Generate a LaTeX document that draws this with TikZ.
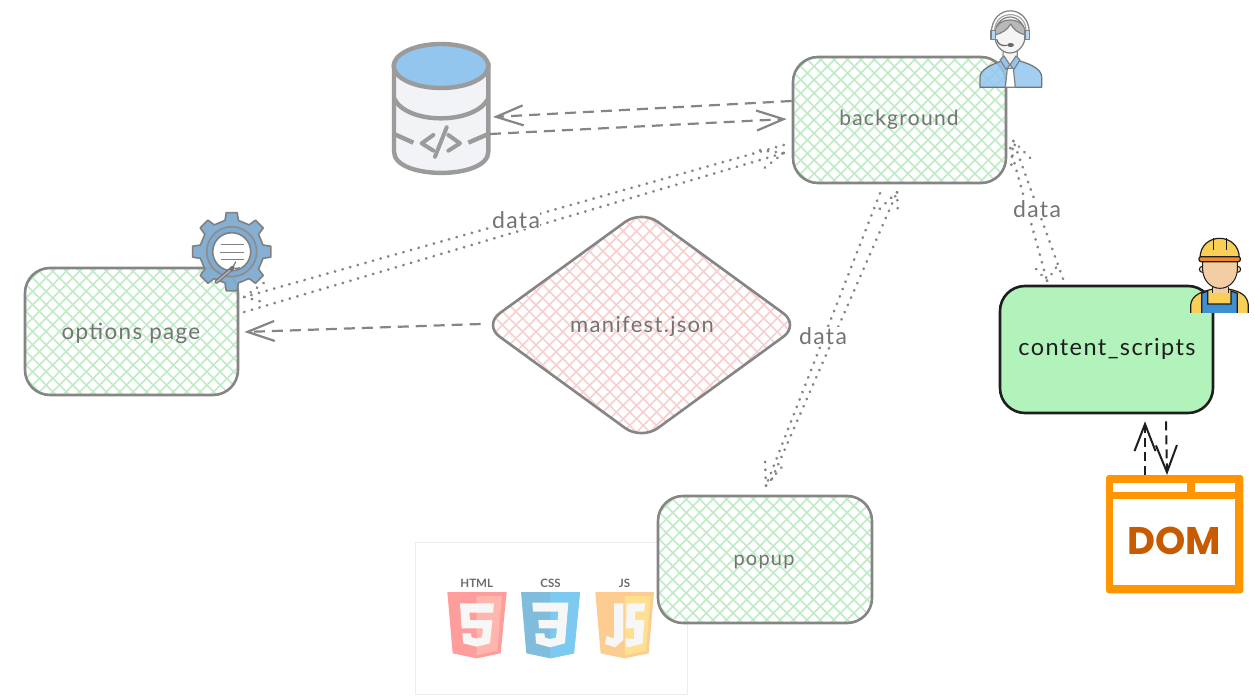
\documentclass[tikz,border=0pt]{standalone}
\usepackage{fontspec}
\usetikzlibrary{arrows.meta,shapes.geometric}
\setmainfont{Lato}
\newfontfamily\hand[LetterSpace=6]{Lato}
\newfontfamily\domfont{Poppins}
\definecolor{edgegray}{HTML}{858585}
\definecolor{textgray}{HTML}{747474}
\definecolor{hatchgreen}{HTML}{BFEBC6}
\definecolor{hatchpink}{HTML}{F8CFCF}
\definecolor{inkdark}{HTML}{1E1E1E}
\definecolor{mint}{HTML}{B2F2BB}
\definecolor{iconblue}{HTML}{92C6EF}
\definecolor{gearblue}{HTML}{7FABD0}
\definecolor{dbgray}{HTML}{9B9B9B}
\definecolor{dbbody}{HTML}{F1F3F6}
\definecolor{domorange}{HTML}{FF9500}
\definecolor{domtext}{HTML}{C75B00}
\definecolor{HTMLcolorA}{HTML}{FF9C9C}
\definecolor{HTMLcolorB}{HTML}{FFB6AC}
\definecolor{CSScolorA}{HTML}{80BCDC}
\definecolor{CSScolorB}{HTML}{7CCAF0}
\definecolor{JScolorA}{HTML}{FCCC90}
\definecolor{JScolorB}{HTML}{FFDF90}
\definecolor{skin}{HTML}{F3CDA4}
\definecolor{hatyellow}{HTML}{F9CF57}
\definecolor{hatorange}{HTML}{EE8A2A}
\definecolor{bibblue}{HTML}{3F8FD2}
\tikzset{
  zoomat/.style 2 args={x=.33333pt,y=-.33333pt,shift={(#1pt,-#2pt)}},
  hatchfill/.style={path picture={
    \foreach \d in {-340,-326.6,...,340}{
      \draw[#1,line width=1.6pt,shift={(path picture bounding box.center)}]
        ({\d-220pt},220pt) -- ({\d+220pt},-220pt)
        ({\d-220pt},-220pt) -- ({\d+220pt},220pt);
    }}},
  boxnode/.style={draw=edgegray,line width=2.6pt,rounded corners=25pt,fill=white,inner sep=0pt},
  ghost/.style={inner sep=0pt,outer sep=0pt},
  dashline/.style={draw=edgegray,line width=2.2pt,dash pattern=on 11pt off 7pt},
  dotline/.style={draw=edgegray,line width=3pt,line cap=round,dash pattern=on .1pt off 7.8pt},
  barbtip/.style={-{Straight Barb[length=27pt,width=20pt,line width=2.2pt]}},
  darkline/.style={draw=inkdark,line width=2pt,dash pattern=on 9pt off 5pt},
  darktip/.style={-{Straight Barb[length=27pt,width=21pt,line width=2pt]}},
  handtext/.style={font=\hand\fontsize{#1}{24}\selectfont,text=textgray,inner sep=1pt},
  datalabel/.style={handtext=23,fill=white,inner sep=0pt},
  iconline/.style={draw=#1,line width=1.2pt,line join=round},
  shieldtext/.style={ghost,font=\bfseries\fontsize{11.5}{13}\selectfont,text=black!58},
}
\begin{document}
\begin{tikzpicture}[x=1pt,y=-1pt]
\useasboundingbox (0,0) rectangle (1255,698);

% HTML/CSS/JS panel
\node[ghost,draw=black!7,line width=1pt,minimum width=272pt,minimum height=152pt] (panel) at (551,618) {};
\begin{scope}[zoomat={410}{490}]
  % HTML
  \fill[HTMLcolorA] (112,306) -- (290,306) -- (272,490) -- (200,505) -- (128,490) -- cycle;
  \fill[HTMLcolorB] (200,318) -- (276,318) -- (262,482) -- (200,496) -- cycle;
  \fill[white!97!black] (150,340) -- (252,340) -- (249,368) -- (178,368) -- (180,390) -- (247,390) -- (240,460) -- (200,470) -- (160,460) -- (157,430) -- (183,430) -- (185,442) -- (200,446) -- (216,442) -- (219,415) -- (155,415) -- cycle;
  % CSS
  \fill[CSScolorA] (333,306) -- (510,306) -- (492,490) -- (421,505) -- (349,490) -- cycle;
  \fill[CSScolorB] (421,306) -- (510,306) -- (492,490) -- (421,505) -- cycle;
  \fill[white!97!black] (367,338) -- (475,338) -- (465,460) -- (420,472) -- (378,460) -- (376,430) -- (403,430) -- (405,443) -- (420,447) -- (438,443) -- (441,415) -- (387,415) -- (385,390) -- (443,390) -- (445,365) -- (369,365) -- cycle;
  % JS
  \fill[JScolorA] (556,306) -- (732,306) -- (716,490) -- (644,505) -- (572,490) -- cycle;
  \fill[JScolorB] (644,318) -- (722,318) -- (708,482) -- (644,496) -- cycle;
  \fill[white!97!black] (612,340) -- (640,340) -- (640,450) -- (615,472) -- (585,462) -- (590,437) -- (608,446) -- (612,440) -- cycle;
  \fill[white!97!black] (650,340) -- (705,340) -- (703,365) -- (676,365) -- (675,390) -- (703,390) -- (698,460) -- (655,472) -- (648,470) -- (646,445) -- (672,447) -- (673,415) -- (648,415) -- cycle;
\end{scope}
\node[shieldtext] (lhtml) at (476.7,583) {HTML};
\node[shieldtext] (lcss) at (550.5,583) {CSS};
\node[shieldtext] (ljs) at (624.5,583) {JS};

% boxes
\node[boxnode,hatchfill=hatchgreen,minimum width=213pt,minimum height=126pt] (bg) at (899.5,120) {};
\node[boxnode,hatchfill=hatchgreen,minimum width=213pt,minimum height=127pt] (opt) at (131.5,331.5) {};
\node[boxnode,hatchfill=hatchgreen,minimum width=214pt,minimum height=127pt] (pop) at (765,559.5) {};
\node[boxnode,draw=inkdark,fill=mint,minimum width=213pt,minimum height=127pt] (cs) at (1106.5,349.5) {};
\node[diamond,shape aspect=1.37,draw=edgegray,line width=2.6pt,rounded corners=20pt,fill=white,hatchfill=hatchpink,inner sep=0pt,minimum width=317pt,minimum height=231pt] (man) at (641.5,325) {};

% box labels
\node[handtext=21] (tbg) at (899,120) {background};
\node[handtext=22.4] (topt) at (131,333) {options page};
\node[handtext=22] (tman) at (642,326) {manifest.json};
\node[handtext=20] (tpop) at (764,562) {popup};
\node[handtext=23.5,text=inkdark] (tcs) at (1107,349) {content\_scripts};

% database icon
\node[ghost,minimum width=97pt,minimum height=131pt] (db) at (441.5,108.5) {};
\begin{scope}[zoomat={380}{30}]
  \draw[draw=dbgray,fill=dbbody,line width=4.4pt] (42,105) -- (42,365) .. controls (42,450) and (325,450) .. (325,365) -- (325,105) -- cycle;
  \draw[draw=dbgray,fill=iconblue,line width=4.4pt] (183,108) ellipse (142 and 66);
  \draw[draw=dbgray,line width=4.4pt] (42,205) .. controls (80,285) and (285,285) .. (325,205);
  \draw[draw=dbgray,line width=4.4pt] (42,312) -- (100,338);
  \draw[draw=dbgray,line width=4.4pt] (265,338) -- (325,312);
  \draw[draw=dbgray,line width=4pt,line cap=round,line join=round] (160,315) -- (125,340) -- (160,362);
  \draw[draw=dbgray,line width=4pt,line cap=round] (200,292) -- (165,380);
  \draw[draw=dbgray,line width=4pt,line cap=round,line join=round] (205,315) -- (240,340) -- (205,362);
\end{scope}

% agent icon
\node[ghost,minimum width=62pt,minimum height=77pt] (agent) at (1011,48.5) {};
\begin{scope}[zoomat={780}{0}]
  \draw[iconline=black!55,fill=iconblue,fill opacity=.85] (600,262) -- (600,232) .. controls (600,210) and (630,195) .. (665,183) -- (720,183) .. controls (760,195) and (785,210) .. (785,232) -- (785,262) -- cycle;
  \draw[iconline=black!45,fill=black!4] (670,145) -- (712,145) -- (712,190) -- (690,210) -- (668,190) -- cycle;
  \draw[iconline=black!50,fill=white] (682,205) -- (700,205) -- (706,262) -- (676,262) -- cycle;
  \draw[iconline=black!50,fill=iconblue] (660,180) -- (672,168) -- (690,195) -- (678,208) -- cycle;
  \draw[iconline=black!50,fill=iconblue] (720,180) -- (708,168) -- (690,195) -- (702,208) -- cycle;
  \draw[iconline=black!50,fill=black!4] (690,105) ellipse (46 and 54);
  \draw[iconline=black!50,fill=black!28] (644,105) .. controls (640,45) and (740,45) .. (737,105) .. controls (715,100) and (700,88) .. (692,72) .. controls (682,90) and (665,100) .. (644,105) -- cycle;
  \draw[iconline=black!50] (634,100) .. controls (634,10) and (748,10) .. (748,100);
  \draw[iconline=black!35] (644,92) .. controls (644,28) and (738,28) .. (738,92);
  \draw[iconline=black!50,fill=iconblue!70] (633,92) rectangle (646,118);
  \draw[iconline=black!50,fill=iconblue!70] (735,92) rectangle (748,118);
  \draw[iconline=black!60] (650,118) .. controls (655,135) and (665,138) .. (682,136);
  \fill[black!60] (692,135) ellipse (10 and 6);
\end{scope}

% gear icon
\node[ghost,minimum width=80pt,minimum height=80pt] (gear) at (231.7,251.7) {};
\begin{scope}[shift={(231.7pt,-251.7pt)}]
  \draw[draw=black!50,fill=gearblue,fill opacity=.95,line width=1.6pt,line join=round]
    (-12:32) \foreach \a in {0,45,...,315}{ -- (\a-12:32) -- (\a-8:39.5) -- (\a+8:39.5) -- (\a+12:32) } -- cycle;
  \draw[draw=black!45,fill=gearblue,line width=1.6pt] (0,0) circle (25);
  \draw[draw=black!50,fill=white,line width=1.6pt] (0,0) circle (19);
  \draw[draw=black!50,line width=1.3pt] (-11,-7) -- (12,-7) (-12,0.7) -- (12,0.7) (-11,7.5) -- (12,7.5);
  \draw[draw=black!55,line width=4pt,line cap=round] (-15,30) -- (1,16);
  \draw[draw=black!30,line width=1.6pt,line cap=round] (-15,30) -- (-2,19);
  \draw[draw=black!55,line width=1.2pt] (1,16) -- (4,10) (3,17) -- (8,16);
\end{scope}

% worker icon
\node[ghost,minimum width=59pt,minimum height=76pt] (worker) at (1219.5,274.5) {};
\begin{scope}
  \clip (1185,230) rectangle (1255,312);
  \begin{scope}[zoomat={980}{230}]
    \draw[draw=inkdark,fill=hatyellow,line width=1.2pt] (632,260) -- (632,225) .. controls (635,195) and (665,185) .. (695,178) -- (750,178) .. controls (780,185) and (802,195) .. (805,225) -- (805,260) -- cycle;
    \draw[draw=inkdark,fill=bibblue,line width=1.2pt] (665,260) -- (665,190) -- (683,183) -- (683,222) -- (753,222) -- (753,183) -- (772,190) -- (772,260) -- cycle;
    \fill[skin] (698,160) rectangle (745,190);
    \draw[draw=inkdark,line width=1pt] (698,170) -- (698,190) (745,170) -- (745,190);
    \draw[draw=inkdark,fill=skin,line width=1pt] (667,118) circle (9);
    \draw[draw=inkdark,fill=skin,line width=1pt] (773,118) circle (9);
    \draw[draw=inkdark,fill=skin,line width=1pt] (668,90) -- (772,90) -- (772,120) .. controls (770,155) and (745,175) .. (720,175) .. controls (695,175) and (670,155) .. (668,120) -- cycle;
    \draw[draw=inkdark,fill=hatyellow,line width=1.2pt] (660,85) .. controls (660,5) and (778,5) .. (778,85) -- cycle;
    \draw[draw=inkdark,fill=hatorange,line width=1.2pt,rounded corners=2pt] (657,80) rectangle (781,95);
    \draw[draw=inkdark,line width=1pt] (700,25) -- (700,60) (738,25) -- (738,60);
  \end{scope}
\end{scope}

% DOM icon
\node[ghost,minimum width=137pt,minimum height=118pt] (dom) at (1174.5,534) {};
\begin{scope}[zoomat={980}{230}]
  \fill[domorange,rounded corners=3pt] (378,735) rectangle (790,1090);
  \fill[white] (400,760) rectangle (620,785);
  \fill[white] (646,760) rectangle (765,785);
  \fill[white] (400,806) rectangle (765,1065);
\end{scope}
\node[ghost,font=\domfont\bfseries\fontsize{38.5}{40}\selectfont,text=domtext] (tdom) at (1174,541) {DOM};

% connectors
\draw[dashline,barbtip] ([yshift=19pt]bg.west) -- ([shift={(3pt,-8.5pt)}]db.east);
\draw[dashline,barbtip] ([yshift=-25.5pt]db.east) -- ([shift={(-5pt,1pt)}]bg.west);
\draw[dashline,barbtip] ([shift={(-1pt,1pt)}]man.west) -- ([shift={(5pt,-.5pt)}]opt.east);

\draw[dotline] ([shift={(-8pt,-25pt)}]bg.west) -- ([shift={(5pt,34.5pt)}]opt.east) coordinate (h1);
\draw[dotline] (h1) -- ++(22,-16);
\draw[dotline] (h1) -- ++(22,6);
\draw[dotline] ([shift={(5pt,19.5pt)}]opt.east) -- ([shift={(-8pt,-33pt)}]bg.west) coordinate (h2);
\draw[dotline] (h2) -- ++(-25,-3);
\draw[dotline] (h2) -- ++(-22,17);

\draw[dotline] ([shift={(-19.5pt,-9pt)}]bg.south) -- ([shift={(1pt,9pt)}]pop.north) coordinate (h3);
\draw[dotline] (h3) -- ++(-1,-25);
\draw[dotline] (h3) -- ++(17,-20);
\draw[dotline] ([shift={(7pt,16pt)}]pop.north) -- ([shift={(-2.5pt,-8pt)}]bg.south) coordinate (h4);
\draw[dotline] (h4) -- ++(-20,19);
\draw[dotline] (h4) -- ++(1,22);

\draw[dotline] ([shift={(-43.5pt,6pt)}]cs.north) -- ([shift={(6pt,-21pt)}]bg.east) coordinate (h5);
\draw[dotline] (h5) -- ++(-2,24);
\draw[dotline] (h5) -- ++(19,19);
\draw[dotline] ([shift={(3pt,-28pt)}]bg.east) -- ([shift={(-59.5pt,4pt)}]cs.north) coordinate (h6);
\draw[dotline] (h6) -- ++(-15,-16);
\draw[dotline] (h6) -- ++(11,-16);

\draw[darkline,darktip] ([xshift=-29.5pt]dom.north) -- ([shift={(38.5pt,-7pt)}]cs.south);
\draw[darkline,darktip] ([shift={(59.5pt,-7pt)}]cs.south) -- ([xshift=-7.5pt]dom.north);

% connector labels
\node[datalabel] (d1) at (516,220) {data};
\node[datalabel] (d2) at (823,336) {data};
\node[datalabel] (d3) at (1037,209) {data};
\end{tikzpicture}
\end{document}
